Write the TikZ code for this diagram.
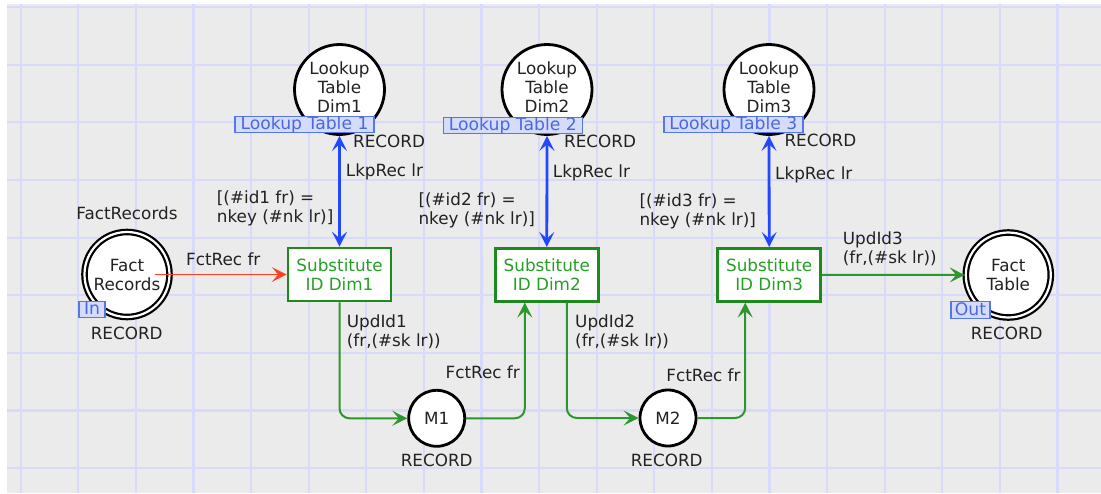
\documentclass[tikz,border=0pt]{standalone}
\usepackage{fontspec}
\setmainfont{DejaVu Sans}
\usetikzlibrary{arrows.meta}

\definecolor{canvas}{HTML}{EBEBEB}
\definecolor{gridline}{HTML}{D8DAFA}
\definecolor{lookupblue}{HTML}{2248FF}
\definecolor{flowgreen}{HTML}{2E962E}
\definecolor{transgreen}{HTML}{1E8A1E}
\definecolor{transtext}{HTML}{24A024}
\definecolor{inred}{HTML}{FF4020}
\definecolor{tagfill}{HTML}{D4DCFA}
\definecolor{tagline}{HTML}{5577EA}
\definecolor{tagtext}{HTML}{4A68E0}
\definecolor{labeltext}{HTML}{222222}

\begin{document}
\begin{tikzpicture}[x=1pt, y=-1pt,
  font=\fontsize{16.8}{19}\selectfont,
  place/.style={circle, draw=black, line width=2.8pt, fill=white,
    minimum size=90pt, inner sep=0pt, align=center, text=labeltext,
    text depth=5pt},
  portplace/.style={circle, draw=black, line width=2.2pt, double=white,
    double distance=2.2pt, fill=white, minimum size=85pt, inner sep=0pt,
    align=center, text=labeltext},
  smallplace/.style={circle, draw=black, line width=2.8pt, fill=white,
    minimum size=56pt, inner sep=0pt, text=labeltext},
  trans/.style={rectangle, draw=transgreen, line width=2.6pt, fill=white,
    text=transtext, minimum width=103pt, minimum height=53pt,
    inner sep=0pt, align=center},
  tagbox/.style={rectangle, draw=tagline, fill=tagfill, text=tagtext,
    line width=1.4pt, inner sep=0pt, minimum height=16pt,
    font=\fontsize{17.2}{19}\selectfont,
    text height=12.5pt, text depth=2.5pt},
  lbl/.style={inner sep=0pt, align=left, text=labeltext},
  tipA/.style={-{Stealth[length=15pt, width=15pt, inset=6.5pt]}},
  tipAA/.style={{Stealth[length=15pt, width=15pt, inset=6.5pt]}-{Stealth[length=15pt, width=15pt, inset=6.5pt]}},
  lkarc/.style={draw=lookupblue, line width=2.8pt, tipAA},
  flowarc/.style={draw=flowgreen, line width=2pt, tipA, rounded corners=10pt},
  inarc/.style={draw=inred, line width=1.6pt, tipA}
]
% canvas and grid
\useasboundingbox (0,0) rectangle (1101,493);
\fill[white] (0,0) rectangle (1101,493);
\fill[canvas] (7,4.3) rectangle (1101,493);
\foreach \k in {0,...,18}
  \draw[gridline, line width=2.2pt] ({20.7+57.6*\k},4.3) -- ({20.7+57.6*\k},493);
\foreach \k in {0,...,8}
  \draw[gridline, line width=2.2pt] (7,{7+57.65*\k}) -- (1101,{7+57.65*\k});

% places
\node[place] (LT1) at (339.5,89.5) {Lookup\\Table\\Dim1};
\node[place] (LT2) at (547,89.5) {Lookup\\Table\\Dim2};
\node[place] (LT3) at (769,89.5) {Lookup\\Table\\Dim3};
\node[portplace] (FR) at (127,274.5) {Fact\\Records};
\node[portplace] (FT) at (1008.3,275) {Fact\\Table};
\node[smallplace] (M1) at (436.7,418.3) {M1};
\node[smallplace] (M2) at (668,418) {M2};

% transitions
\node[trans] (T1) at (339.5,274.5) {Substitute\\ID Dim1};
\node[trans] (T2) at (546.8,274.8) {Substitute\\ID Dim2};
\node[trans] (T3) at (769.2,274.8) {Substitute\\ID Dim3};

% arcs
\draw[lkarc] (T1.north) -- (LT1.south);
\draw[lkarc] (T2.north) -- (LT2.south);
\draw[lkarc] (T3.north) -- (LT3.south);
\draw[inarc] ([xshift=-16pt]FR.east) -- (T1.west);
\draw[flowarc] (T1.south) |- (M1.west);
\draw[flowarc] (M1.east) -| ([xshift=-22pt]T2.south);
\draw[flowarc] ([xshift=20pt]T2.south) |- (M2.west);
\draw[flowarc] (M2.east) -| ([xshift=-24pt]T3.south);
\draw[flowarc] (T3.east) -- (FT.west);

% fusion and port tags
\node[tagbox, minimum width=139pt] (tag1) at (304.5,124.3) {Lookup Table 1};
\node[tagbox, minimum width=139pt] (tag2) at (512.8,125.7) {Lookup Table 2};
\node[tagbox, minimum width=139pt] (tag3) at (733.3,124.3) {Lookup Table 3};
\node[tagbox, minimum width=26pt, minimum height=15.6pt] (tagIn) at (92,309.5) {In};
\node[tagbox, minimum width=39pt, minimum height=16.6pt] (tagOut) at (970.5,310) {Out};

% place names and colour sets
\node[lbl] (nameFR) at (127,213) {FactRecords};
\node[lbl] (csFR) at (126.7,333) {RECORD};
\node[lbl] (csFT) at (1006.7,333.3) {RECORD};
\node[lbl, anchor=west] (csLT1) at (353,141.7) {RECORD};
\node[lbl, anchor=west] (csLT2) at (564,141.7) {RECORD};
\node[lbl, anchor=west] (csLT3) at (784.3,140) {RECORD};
\node[lbl] (csM1) at (436.7,460) {RECORD};
\node[lbl] (csM2) at (666.7,460) {RECORD};

% arc inscriptions
\node[lbl, anchor=west] (lk1) at (345.7,172) {LkpRec lr};
\node[lbl, anchor=west] (lk2) at (552.7,173) {LkpRec lr};
\node[lbl, anchor=west] (lk3) at (775,175) {LkpRec lr};
\node[lbl, anchor=west] (fct0) at (186,259) {FctRec fr};
\node[lbl, anchor=east] (fct1) at (520,372.7) {FctRec fr};
\node[lbl, anchor=east] (fct2) at (740.7,375) {FctRec fr};
\node[lbl, anchor=west] (upd1) at (346.7,331.3) {UpdId1\\(fr,(\#sk lr))};
\node[lbl, anchor=west] (upd2) at (575,331.3) {UpdId2\\(fr,(\#sk lr))};
\node[lbl, anchor=west] (upd3) at (842.7,248.7) {UpdId3\\(fr,(\#sk lr))};

% guards
\node[lbl, anchor=west] (g1) at (216.7,208) {[(\#id1 fr) =\\nkey (\#nk lr)]};
\node[lbl, anchor=west] (g2) at (418.3,210.3) {[(\#id2 fr) =\\nkey (\#nk lr)]};
\node[lbl, anchor=west] (g3) at (639.3,211.3) {[(\#id3 fr) =\\nkey (\#nk lr)]};
\end{tikzpicture}
\end{document}
